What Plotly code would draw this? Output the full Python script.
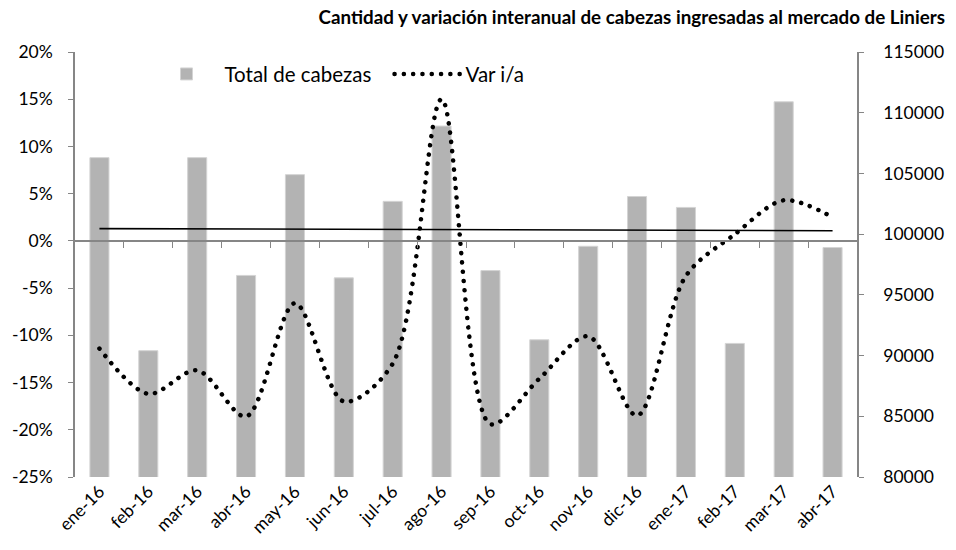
import numpy as np
import plotly.graph_objects as go

# Datos
meses = ['ene-16', 'feb-16', 'mar-16', 'abr-16', 'may-16', 'jun-16', 'jul-16', 'ago-16',
         'sep-16', 'oct-16', 'nov-16', 'dic-16', 'ene-17', 'feb-17', 'mar-17', 'abr-17']
total_cabezas = [106300, 90400, 106300, 96600, 104900, 96400, 102700, 108900,
                 97000, 91300, 99000, 103100, 102200, 91000, 110900, 98900]
var_ia = [-11.4, -16.2, -13.7, -18.6, -6.6, -17.0, -13.0, 15.0,
          -19.4, -14.6, -10.1, -18.5, -3.7, 0.7, 4.3, 2.5]

ticks_pct = [-25, -20, -15, -10, -5, 0, 5, 10, 15, 20]
ticks_pct_txt = ['-25%', '-20%', '-15%', '-10%', '-5%', '0%', '5%', '10%', '15%', '20%']
ticks_cab = [80000, 85000, 90000, 95000, 100000, 105000, 110000, 115000]

# Tendencia lineal de las cabezas (como la línea de tendencia de Excel)
idx = np.arange(len(meses))
pend, orde = np.polyfit(idx, total_cabezas, 1)
tendencia = pend * idx + orde

gris = '#868686'
fuente = 'Lato'

fig = go.Figure()

# Barras: total de cabezas (eje derecho)
fig.add_trace(go.Bar(
    x=idx, y=total_cabezas, name='Total de cabezas',
    marker=dict(color='#b3b3b3', line=dict(color='#d4d4d4', width=1)),
    width=0.39, xaxis='x', yaxis='y'
))

# Línea de tendencia (en x2 para que se dibuje el eje del 0%)
fig.add_trace(go.Scatter(
    x=idx, y=tendencia, mode='lines', showlegend=False,
    line=dict(color='black', width=1.6), hoverinfo='skip',
    xaxis='x2', yaxis='y'
))

# Variación interanual (eje izquierdo)
fig.add_trace(go.Scatter(
    x=idx, y=var_ia, mode='lines', name='Var i/a',
    line=dict(color='black', width=4.5, dash='4px,5px', shape='spline', smoothing=0.9),
    xaxis='x', yaxis='y2'
))

fig.update_layout(
    width=956, height=550,
    margin=dict(l=72, r=99, t=52, b=73),
    plot_bgcolor='white', paper_bgcolor='white',
    font=dict(family=fuente, size=17.5, color='black'),
    title=dict(
        text='<b>Cantidad y variación interanual de cabezas ingresadas al mercado de Liniers</b>',
        x=0.9885, xanchor='right', xref='container',
        y=1 - 17 / 550, yanchor='middle', yref='container',
        font=dict(family=fuente, size=18.8, color='black')
    ),
    showlegend=True,
    legend=dict(
        orientation='h', x=0.094, xanchor='left', y=0.948, yanchor='middle',
        font=dict(size=20.5), bgcolor='rgba(0,0,0,0)', itemwidth=66,
        entrywidth=160, traceorder='normal'
    ),
    xaxis=dict(
        range=[-0.5, len(meses) - 0.5],
        tickvals=idx, ticktext=meses, tickangle=-45,
        showline=False, showgrid=False, zeroline=False, ticks='',
        tickfont=dict(size=17.5)
    ),
    xaxis2=dict(
        overlaying='x', anchor='free', position=25 / 45,
        range=[-0.5, len(meses) - 0.5],
        tickvals=idx[:-1] + 0.5, showticklabels=False,
        ticks='outside', ticklen=6, tickcolor=gris,
        showline=True, linecolor=gris, linewidth=1.5,
        showgrid=False, zeroline=False
    ),
    yaxis=dict(
        side='right', range=[80000, 115000], tickvals=ticks_cab, tickformat='d',
        showline=True, linecolor=gris, linewidth=1.5,
        ticks='outside', ticklen=5, tickcolor=gris, ticklabelstandoff=16,
        showgrid=False, zeroline=False, tickfont=dict(size=17.5)
    ),
    yaxis2=dict(
        overlaying='y', side='left', anchor='x', range=[-25, 20],
        tickvals=ticks_pct, ticktext=ticks_pct_txt,
        showline=True, linecolor=gris, linewidth=1.5,
        ticks='outside', ticklen=5, tickcolor=gris, ticklabelstandoff=12,
        showgrid=False, zeroline=False, tickfont=dict(size=17.5)
    ),
)

# sin margen en la página y puntos redondos para la línea punteada
redondo = """
document.body.style.margin = '0';
document.querySelectorAll('.scatterlayer .trace path.js-line, .legend .legendlines path').forEach(function(p){
  if ((p.style.strokeDasharray || '').indexOf('4') === 0) {
    p.style.strokeLinecap = 'round';
    p.style.strokeDasharray = '0.1px,9.2px';
  }
});
"""

fig.write_html("out.html", post_script=redondo, config={'displayModeBar': False})
